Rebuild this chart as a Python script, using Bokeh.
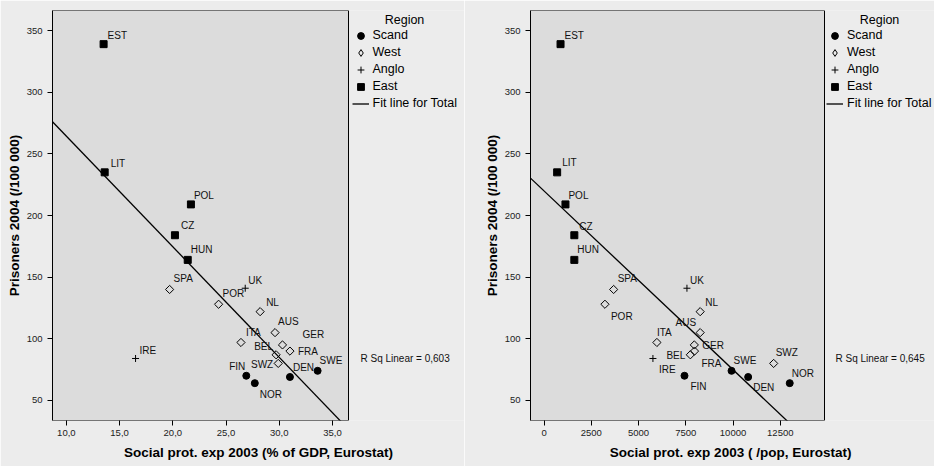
import numpy as np
from bokeh.plotting import figure
from bokeh.models import (ColumnDataSource, LabelSet, Label, Legend, LegendItem,
                          FixedTicker, CustomJSTickFormatter, Range1d, BoxAnnotation)
from bokeh.core.properties import value
from bokeh.layouts import row
from bokeh.embed import file_html
from bokeh.resources import INLINE

# ---------------- data ----------------
countries = ["EST", "LIT", "POL", "CZ", "HUN", "SPA", "POR", "UK", "IRE", "NL",
             "AUS", "ITA", "GER", "FRA", "BEL", "SWZ", "FIN", "NOR", "DEN", "SWE"]
regions = ["East", "East", "East", "East", "East", "West", "West", "Anglo", "Anglo", "West",
           "West", "West", "West", "West", "West", "West", "Scand", "Scand", "Scand", "Scand"]
social_exp_gdp = [13.5, 13.6, 21.7, 20.2, 21.4, 19.7, 24.3, 26.8, 16.5, 28.2,
                  29.6, 26.4, 30.3, 31.0, 29.7, 29.9, 26.9, 27.7, 31.0, 33.6]
social_exp_eur = [870, 690, 1130, 1600, 1600, 3680, 3220, 7560, 5760, 8260,
                  8260, 5970, 7950, 7960, 7740, 12150, 7430, 13000, 10800, 9920]
prisoners = [339, 235, 209, 184, 164, 140, 128, 141, 84, 122,
             105, 97, 95, 90, 87, 80, 70, 64, 69, 74]

region_names = ["Scand", "West", "Anglo", "East"]
fit_label = "Fit line for Total"
legend_title = "Region"
x_ticks_left = [10, 15, 20, 25, 30, 35]
x_ticks_right = [0, 2500, 5000, 7500, 10000, 12500]
y_ticks = [50, 100, 150, 200, 250, 300, 350]
x_title_left = "Social prot. exp 2003 (% of GDP, Eurostat)"
x_title_right = "Social prot. exp 2003 (  /pop, Eurostat)"
y_title = "Prisoners 2004 (/100 000)"
r2_left = "R Sq Linear = 0,603"
r2_right = "R Sq Linear = 0,645"

# ---------------- styling / placement (not data) ----------------
FONT = "Liberation Sans"
Y_LIM = (33.7, 366.3)
marker_style = {
    "Scand": dict(marker="circle", size=7, fill_color="black", line_color="black", angle=0),
    "West": dict(marker="square", size=5.8, fill_color=None, line_color="black", angle=np.pi / 4),
    "Anglo": dict(marker="cross", size=7, fill_color=None, line_color="black", angle=0),
    "East": dict(marker="square", size=7, fill_color="black", line_color="black", angle=0),
}
# legend icon (legend markers are never rotated, so West uses Bokeh's diamond there)
legend_marker = {"Scand": "circle", "West": "diamond", "Anglo": "cross", "East": "square"}

# label offsets in screen px: (dx, dy up, align)
offs_left = {
    "EST": (4, 9, "left"), "LIT": (6, 9, "left"), "POL": (3, 9, "left"), "CZ": (6, 10, "left"),
    "HUN": (3, 10, "left"), "SPA": (4, 11, "left"), "UK": (3, 8, "left"), "POR": (4, 11, "left"),
    "NL": (6, 9, "left"), "AUS": (3, 11, "left"), "ITA": (5, 10, "left"), "GER": (20, 10, "left"),
    "FRA": (8, 0, "left"), "BEL": (-3, 8, "right"), "SWZ": (-5, -1, "right"), "IRE": (4, 8, "left"),
    "FIN": (-1, 9, "right"), "NOR": (5, -11, "left"), "DEN": (3, 9, "left"), "SWE": (2, 10, "left"),
}
offs_right = {
    "EST": (4, 9, "left"), "LIT": (5, 10, "left"), "POL": (3, 9, "left"), "CZ": (5, 9, "left"),
    "HUN": (3, 10, "left"), "SPA": (4, 11, "left"), "POR": (6, -12, "left"), "UK": (3, 8, "left"),
    "NL": (5, 9, "left"), "AUS": (-4, 10, "right"), "ITA": (0, 10, "left"), "GER": (8, -1, "left"),
    "FRA": (7, -12, "left"), "BEL": (-5, -1, "right"), "SWZ": (2, 11, "left"), "IRE": (6, -11, "left"),
    "FIN": (6, -11, "left"), "SWE": (2, 10, "left"), "DEN": (5, -11, "left"), "NOR": (2, 10, "left"),
}

HEIGHT = 466
TOP = 10
BOTTOM = 46
FRAME_H = HEIGHT - TOP - BOTTOM


def make_panel(xvals, xlim, xticks, xtitle, offs, r2, width, border_left, box_w,
               comma, legend_dx, title_dx, r2_dx):
    frame_w = width - border_left
    # the frame extends to the right edge so the legend/texts are not clipped;
    # the grey plot box covers only xlim
    x_end = xlim[0] + (xlim[1] - xlim[0]) * frame_w / box_w
    p = figure(width=width, height=HEIGHT, x_range=Range1d(xlim[0], x_end),
               y_range=Range1d(*Y_LIM), output_backend="svg",
               toolbar_location=None, title=None,
               min_border_left=border_left, min_border_right=0,
               min_border_top=TOP, min_border_bottom=BOTTOM)
    p.background_fill_color = "#ececec"
    p.border_fill_color = "#ececec"
    p.outline_line_color = None
    p.grid.visible = False

    p.add_layout(BoxAnnotation(left=xlim[0], right=xlim[1], bottom=Y_LIM[0], top=Y_LIM[1],
                               fill_color="#dcdcdc", fill_alpha=1, line_color="black",
                               line_width=1, line_alpha=1, level="underlay"))

    items = []
    for reg in region_names:
        idx = [i for i, r in enumerate(regions) if r == reg]
        src = ColumnDataSource(dict(x=[xvals[i] for i in idx], y=[prisoners[i] for i in idx]))
        st = marker_style[reg]
        r = p.scatter("x", "y", source=src, marker=st["marker"], size=st["size"],
                      fill_color=st["fill_color"], line_color=st["line_color"],
                      angle=st["angle"], line_width=1)
        if legend_marker[reg] != st["marker"]:
            # legend-only icon: a single undrawn (NaN) point
            r = p.scatter(x=[np.nan], y=[np.nan], marker=legend_marker[reg],
                          fill_color=st["fill_color"], line_color=st["line_color"],
                          line_width=1)
        items.append(LegendItem(label=reg, renderers=[r]))

    slope, intercept = np.polyfit(np.array(xvals, float), np.array(prisoners, float), 1)
    xs = np.array([xlim[0], xlim[1]])
    fit = p.line(xs, intercept + slope * xs, line_color="black", line_width=1.3)
    items.append(LegendItem(label=fit_label, renderers=[fit]))

    for align in ("left", "right"):
        names = [c for c in countries if offs[c][2] == align]
        idx = [countries.index(c) for c in names]
        src = ColumnDataSource(dict(
            x=[xvals[i] for i in idx], y=[prisoners[i] for i in idx], name=names,
            xo=[offs[c][0] for c in names], yo=[offs[c][1] for c in names]))
        p.add_layout(LabelSet(x="x", y="y", text="name", x_offset="xo", y_offset="yo",
                              source=src, text_align=align, text_baseline="middle",
                              text_font=value(FONT), text_font_size="10px",
                              text_color="#111111"))

    p.xaxis.ticker = FixedTicker(ticks=xticks)
    p.yaxis.ticker = FixedTicker(ticks=y_ticks)
    if comma:
        p.xaxis.formatter = CustomJSTickFormatter(code="return tick.toFixed(1).replace('.', ',');")
    p.xaxis.axis_label = xtitle
    p.yaxis.axis_label = y_title
    for ax in (p.xaxis, p.yaxis):
        ax.axis_line_color = "black"
        ax.major_tick_line_color = "black"
        ax.major_tick_out = 5
        ax.major_tick_in = 0
        ax.minor_tick_line_color = None
        ax.major_label_text_font = FONT
        ax.major_label_text_font_size = "9.5px"
        ax.major_label_text_color = "#222222"
        ax.axis_label_text_font = FONT
        ax.axis_label_text_font_size = "13.5px"
        ax.axis_label_text_font_style = "bold"
        ax.axis_label_text_color = "black"
    p.xaxis.axis_line_color = None
    p.xaxis.major_label_standoff = 4
    p.xaxis.axis_label_standoff = 6
    p.yaxis.major_label_standoff = 5
    p.yaxis.axis_label_standoff = 2

    n_rows = len(items)
    row_h = 17
    pad = 5
    leg_h = n_rows * row_h + 2 * pad
    legend = Legend(items=items, location=(box_w + legend_dx, FRAME_H - 11.5 - leg_h),
                    orientation="vertical", padding=pad, margin=0, spacing=0,
                    glyph_width=17, glyph_height=row_h, label_height=row_h,
                    label_standoff=4, label_text_font=FONT, label_text_font_size="12.5px",
                    label_text_color="black", background_fill_alpha=0,
                    border_line_alpha=0)
    p.add_layout(legend)

    p.add_layout(Label(x=box_w + title_dx, y=FRAME_H - 9, x_units="screen", y_units="screen",
                       text=legend_title, text_align="center", text_baseline="middle",
                       text_font=FONT, text_font_size="12.5px", text_color="black"))
    p.add_layout(Label(x=box_w + r2_dx, y=62, x_units="screen", y_units="screen",
                       text=r2, text_align="left", text_baseline="middle",
                       text_font=FONT, text_font_size="10px", text_color="#111111"))
    return p


p1 = make_panel(social_exp_gdp, (8.7, 36.5), x_ticks_left, x_title_left, offs_left, r2_left,
                width=464, border_left=52, box_w=296, comma=True,
                legend_dx=-1.5, title_dx=56, r2_dx=12)
p2 = make_panel(social_exp_eur, (-720, 14840), x_ticks_right, x_title_right, offs_right, r2_right,
                width=470, border_left=66, box_w=294, comma=False,
                legend_dx=-3, title_dx=55, r2_dx=11)

layout = row(p1, p2, spacing=0)
open("out.html", "w").write(file_html(layout, INLINE))
